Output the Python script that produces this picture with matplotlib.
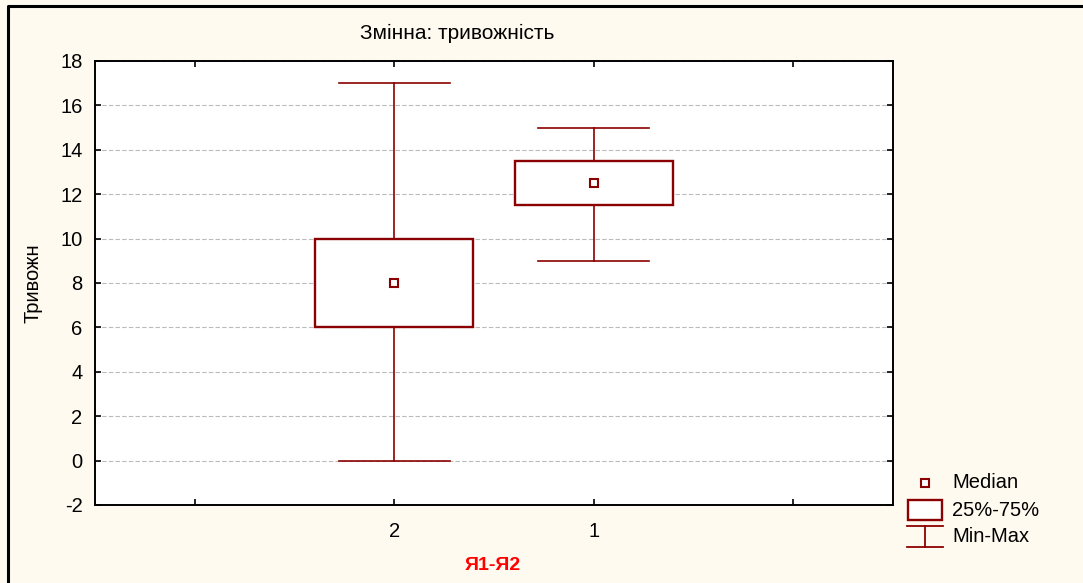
import matplotlib.pyplot as plt
from matplotlib.patches import Rectangle

plt.rcParams['font.family'] = ['Liberation Sans', 'DejaVu Sans']
plt.rcParams['axes.unicode_minus'] = False

# Descriptive stats per group
groups = ['2', '1']
medians = [8.0, 12.5]
q1 = [6.0, 11.5]
q3 = [10.0, 13.5]
mins = [0.0, 9.0]
maxs = [17.0, 15.0]
yticks = [-2, 0, 2, 4, 6, 8, 10, 12, 14, 16, 18]

dark_red = '#8B0000'
bg = '#FFFAF0'
fs = 14.5

fig = plt.figure(figsize=(10.83, 5.83), dpi=100, facecolor=bg)
W, H = 1083, 583
ax = fig.add_axes([95 / W, 1 - 505 / H, (893 - 95) / W, (505 - 61) / H])
ax.set_facecolor('white')

stats = []
for g, md, a, b, lo, hi in zip(groups, medians, q1, q3, mins, maxs):
    stats.append(dict(label=g, med=md, q1=a, q3=b, whislo=lo, whishi=hi, fliers=[]))

positions = [1, 2]
ax.bxp(stats, positions=positions, widths=0.79, capwidths=0.555,
       patch_artist=True,
       boxprops=dict(facecolor='white', edgecolor=dark_red, linewidth=1.7),
       whiskerprops=dict(color=dark_red, linewidth=1.2),
       capprops=dict(color=dark_red, linewidth=1.2),
       medianprops=dict(linewidth=0),
       showfliers=False, zorder=3)
ax.plot(positions, medians, linestyle='none', marker='s', markersize=5.5,
        markerfacecolor='white', markeredgecolor=dark_red, markeredgewidth=1.5,
        zorder=4)

ax.set_xlim(-0.5, 3.5)
ax.set_ylim(-2, 18)
ax.set_xticks([0, 1, 2, 3])
ax.set_xticklabels(['', groups[0], groups[1], ''])
ax.set_yticks(yticks)
ax.tick_params(direction='in', length=4, width=1.2, labelsize=fs,
               top=True, right=True, color='black')
ax.tick_params(axis='y', pad=9)
ax.tick_params(axis='x', pad=12)
ax.grid(axis='y', color='#BBBBBB', linestyle=(0, (4, 2)), linewidth=0.8, zorder=0)
ax.set_axisbelow(True)
for s in ax.spines.values():
    s.set_linewidth(1.4)
    s.set_color('black')

fig.text(457 / W, 1 - 33 / H, 'Змінна: тривожність', ha='center', va='center',
         fontsize=fs + 0.5)
fig.text(33 / W, 1 - 283 / H, 'Тривожн', ha='center', va='center',
         rotation=90, fontsize=fs)
fig.text(493 / W, 1 - 565 / H, 'Я1-Я2', ha='center', va='center',
         fontsize=14, fontweight='bold', color='red')

# overlay in pixel coordinates for frame and legend
ov = fig.add_axes([0, 0, 1, 1], facecolor='none')
ov.set_xlim(0, W)
ov.set_ylim(H, 0)
ov.axis('off')
ov.plot([8, 8, W + 5], [H + 5, 6, 6], color='black', linewidth=2.2)

# legend
ov.add_patch(Rectangle((921, 479), 8, 8, facecolor='white', edgecolor=dark_red,
                       linewidth=1.5))
ov.add_patch(Rectangle((908, 500), 34, 20, facecolor='white', edgecolor=dark_red,
                       linewidth=1.7))
ov.plot([907, 943], [526, 526], color=dark_red, linewidth=1.3)
ov.plot([907, 943], [547, 547], color=dark_red, linewidth=1.3)
ov.plot([925, 925], [526, 547], color=dark_red, linewidth=1.3)
for yy, txt in zip([483, 510, 537], ['Median', '25%-75%', 'Min-Max']):
    ov.text(952, yy, txt, ha='left', va='center', fontsize=fs)

fig.savefig('out.png', dpi=100, facecolor=bg)
